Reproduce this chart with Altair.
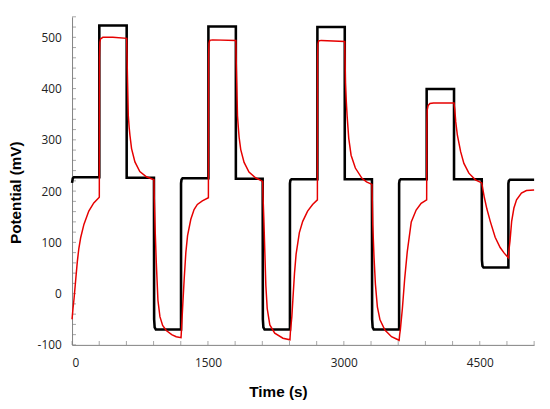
import altair as alt
import pandas as pd

# Black trace (applied potential step programme)
black_t = [0, 8, 20, 301, 301, 603, 603, 904, 906, 912, 925, 1203, 1203, 1208, 1220,
           1505, 1505, 1808, 1808, 2104, 2106, 2112, 2125, 2405, 2405, 2410, 2422,
           2708, 2708, 3010, 3010, 3310, 3312, 3318, 3330, 3610, 3610, 3615, 3627,
           3914, 3914, 4216, 4216, 4522, 4524, 4530, 4542, 4816, 4816, 4821, 4833, 5100]
black_v = [216, 225, 227, 227, 523, 523, 226, 226, -50, -66, -70, -70, 215, 222, 225,
           225, 521, 521, 224, 224, -50, -66, -70, -70, 215, 221, 223,
           223, 520, 520, 223, 223, -50, -66, -70, -70, 215, 221, 223,
           223, 399, 399, 223, 223, 65, 54, 51, 51, 215, 220, 222, 222]

# Red trace (measured response)
red_t = [0, 10, 22, 40, 58, 75, 95, 131, 185, 240, 301,
         303, 307, 315, 340, 450, 603,
         606, 613, 621, 630, 639, 657, 694, 748, 821, 904,
         907, 912, 919, 930, 948, 970, 1000, 1040, 1100, 1150, 1203,
         1208, 1220, 1238, 1256, 1275, 1311, 1347, 1383, 1438, 1505,
         1507, 1511, 1520, 1550, 1808,
         1811, 1818, 1826, 1835, 1844, 1862, 1899, 1953, 2026, 2104,
         2108, 2117, 2128, 2139, 2154, 2183, 2237, 2328, 2405,
         2410, 2426, 2437, 2455, 2473, 2509, 2546, 2600, 2655, 2708,
         2710, 2714, 2722, 2750, 3010,
         3013, 3018, 3027, 3036, 3054, 3080, 3127, 3200, 3250, 3310,
         3314, 3319, 3333, 3348, 3370, 3399, 3453, 3526, 3610,
         3616, 3624, 3646, 3671, 3700, 3744, 3798, 3853, 3914,
         3916, 3920, 3930, 3950, 3990, 4216,
         4220, 4224, 4235, 4253, 4289, 4325, 4380, 4452, 4522,
         4535, 4550, 4579, 4616, 4670, 4725, 4770, 4816,
         4822, 4834, 4852, 4877, 4906, 4960, 5015, 5100]
red_v = [-50, -30, -10, 26, 62, 88, 109, 135, 161, 177, 188,
         460, 490, 497, 500, 500, 498,
         470, 412, 347, 325, 309, 283, 257, 238, 228, 222,
         190, 160, 116, 60, -13, -45, -62, -72, -80, -84, -86,
         -70, -29, 29, 80, 113, 145, 164, 174, 181, 187,
         460, 488, 494, 495, 494,
         460, 412, 347, 325, 305, 281, 256, 237, 226, 219,
         190, 145, 80, 16, -29, -61, -77, -87, -90,
         -75, -45, -13, 39, 77, 119, 141, 161, 174, 183,
         460, 487, 493, 494, 492,
         460, 412, 375, 347, 303, 270, 245, 225, 218, 213,
         180, 135, 71, 19, -26, -51, -71, -84, -91,
         -80, -70, -29, 28, 82, 140, 163, 176, 183,
         330, 358, 367, 371, 372, 372,
         365, 360, 335, 309, 277, 254, 235, 222, 216,
         203, 188, 165, 141, 110, 90, 79, 70,
         85, 103, 141, 167, 183, 196, 201, 202]

x_labels = [0, 1500, 3000, 4500]
y_labels = [-100, 0, 100, 200, 300, 400, 500]
x_ticks = list(range(0, 5101, 300))
y_ticks = list(range(-100, 541, 20))
x_min, x_max = 0, 5100
y_min, y_max = -100, 540

black_df = pd.DataFrame({"t": black_t, "v": black_v, "i": range(len(black_t))})
red_df = pd.DataFrame({"t": red_t, "v": red_v, "i": range(len(red_t))})
xtick_df = pd.DataFrame({"t": x_ticks, "v": [y_min] * len(x_ticks)})
ytick_df = pd.DataFrame({"t": [x_min] * len(y_ticks), "v": y_ticks})

xscale = alt.Scale(domain=[x_min, x_max], nice=False, zero=False)
yscale = alt.Scale(domain=[y_min, y_max], nice=False, zero=False)

AX = "#808080"

x_main = alt.Axis(values=x_labels, orient="bottom", ticks=False, grid=False,
                  domainColor=AX, domainWidth=1,
                  labelFont="Open Sans", labelFontSize=12, labelColor="#222222",
                  labelPadding=13, labelExpr="'' + datum.value",
                  title="Time (s)", titleFont="Liberation Sans", titleFontSize=15.5,
                  titleFontWeight="bold", titleColor="#000000",
                  titleX=209, titleY=47, titleBaseline="middle")
y_main = alt.Axis(values=y_labels, orient="left", ticks=False, grid=False,
                  domainColor=AX, domainWidth=1,
                  labelFont="Open Sans", labelFontSize=12, labelColor="#222222",
                  labelPadding=11, labelExpr="'' + datum.value",
                  title="Potential (mV)", titleFont="Liberation Sans", titleFontSize=15.5,
                  titleFontWeight="bold", titleColor="#000000",
                  titleX=-57, titleY=178, titleBaseline="middle")

X = alt.X("t:Q", scale=xscale, axis=x_main)
Y = alt.Y("v:Q", scale=yscale, axis=y_main)

xticks = alt.Chart(xtick_df).mark_tick(orient="vertical", size=4, thickness=1, color=AX).encode(
    x=X, y=Y, yOffset=alt.value(-2))
yticks = alt.Chart(ytick_df).mark_tick(orient="horizontal", size=4, thickness=1, color=AX).encode(
    x=X, y=Y, xOffset=alt.value(2))

black = alt.Chart(black_df).mark_line(color="#000000", strokeWidth=2.6).encode(
    x=X, y=Y, order=alt.Order("i:Q"))

red = alt.Chart(red_df).mark_line(color="#e60000", strokeWidth=1.5).encode(
    x=X, y=Y, order=alt.Order("i:Q"))

chart = alt.layer(xticks, yticks, black, red).properties(
    width=469, height=333,
    autosize=alt.AutoSizeParams(type="none"),
    padding={"left": 65, "top": 6, "right": 8, "bottom": 54},
    background="white",
).configure_view(strokeWidth=0)

chart.save("out.html", embed_options={"renderer": "svg", "actions": False})
